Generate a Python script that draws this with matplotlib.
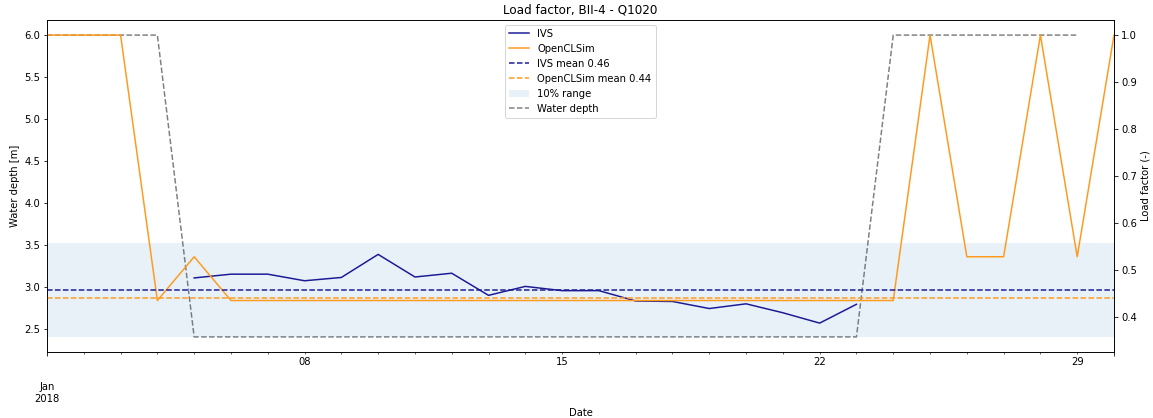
import numpy as np
import pandas as pd
import matplotlib
matplotlib.use('Agg')
import matplotlib.pyplot as plt

# Water depth per day [m], 1 - 29 Jan 2018
water_depth = [6.0, 6.0, 6.0, 6.0, 2.4, 2.4, 2.4, 2.4, 2.4, 2.4,
               2.4, 2.4, 2.4, 2.4, 2.4, 2.4, 2.4, 2.4, 2.4, 2.4,
               2.4, 2.4, 2.4, 6.0, 6.0, 6.0, 6.0, 6.0, 6.0]

# Load factor from IVS registrations, 5 - 23 Jan 2018
ivs_load = [0.484, 0.492, 0.492, 0.478, 0.485, 0.534, 0.486, 0.494, 0.447, 0.466,
            0.457, 0.457, 0.435, 0.434, 0.419, 0.429, 0.410, 0.388, 0.428]

# Load factor from the OpenCLSim run, 1 - 30 Jan 2018
ocs_load = [1.0, 1.0, 1.0, 0.436, 0.529, 0.436, 0.436, 0.436, 0.436, 0.436,
            0.436, 0.436, 0.436, 0.436, 0.436, 0.436, 0.436, 0.436, 0.436, 0.436,
            0.436, 0.436, 0.436, 0.436, 1.0, 0.529, 0.529, 1.0, 0.529, 1.0]

water = pd.Series(water_depth, index=pd.date_range('2018-01-01', periods=len(water_depth), freq='D'))
ivs = pd.Series(ivs_load, index=pd.date_range('2018-01-05', periods=len(ivs_load), freq='D'))
ocs = pd.Series(ocs_load, index=pd.date_range('2018-01-01', periods=len(ocs_load), freq='D'))

# means over the period where IVS has data
ivs_mean = ivs.mean()
ocs_mean = ocs[ivs.index].mean()

blue = '#1a1a96'
orange = '#ff9a1f'

fig = plt.figure(figsize=(1153 / 72, 418 / 72), dpi=72)
ax = fig.add_axes([47 / 1153, 1 - 352 / 418, (1114 - 47) / 1153, (352 - 20) / 418])

water.plot(ax=ax, color='grey', linestyle='--', linewidth=1.5, label='Water depth', legend=False)
ax2 = ivs.plot(ax=ax, secondary_y=True, color=blue, linewidth=1.5, legend=False)
ocs.plot(ax=ax, secondary_y=True, color=orange, linewidth=1.5, legend=False)
ax2.lines[0].set_label('IVS')
ax2.lines[1].set_label('OpenCLSim')

ax2.axhline(ivs_mean, color=blue, linestyle='--', linewidth=1.5, label=f'IVS mean {ivs_mean:.2f}')
ax2.axhline(ocs_mean, color=orange, linestyle='--', linewidth=1.5, label=f'OpenCLSim mean {ocs_mean:.2f}')
ax2.axhspan(ivs_mean - 0.1, ivs_mean + 0.1, color='C0', alpha=0.1, linewidth=0, label='10% range')

ax.set_ylabel('Water depth [m]')
ax2.set_ylabel('Load factor (-)')
ax.set_xlabel('Date')
ax.set_title('Load factor, BII-4 - Q1020')

h2, l2 = ax2.get_legend_handles_labels()
h1, l1 = ax.get_legend_handles_labels()
ax2.legend(h2 + h1, l2 + l1, loc='upper center')

fig.savefig('out.png', dpi=72)
